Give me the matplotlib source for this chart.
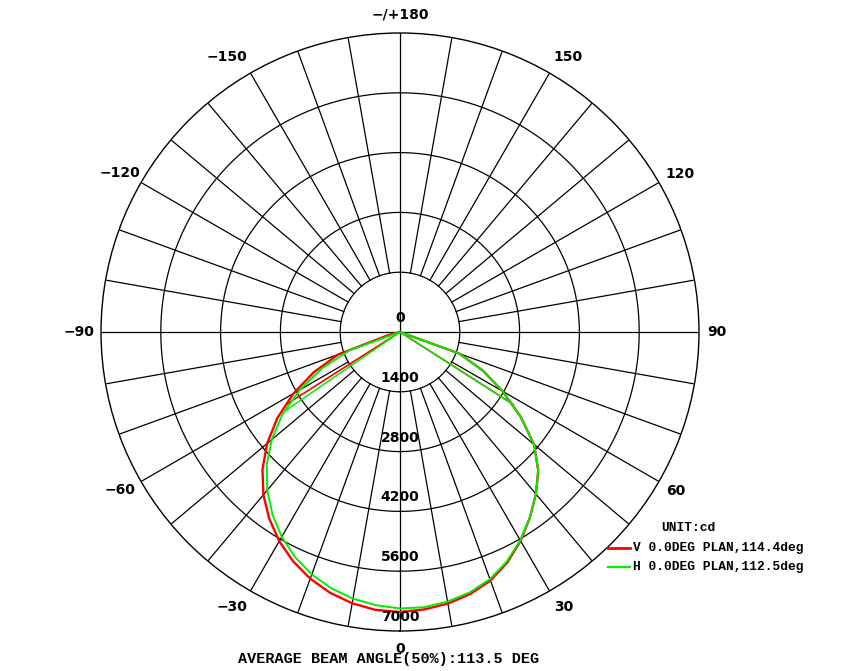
import matplotlib
matplotlib.use('Agg')
import matplotlib.pyplot as plt
import numpy as np

# gamma angles (deg), 0 = straight down
angles = [0, 5, 10, 15, 20, 25, 30, 35, 40, 45, 50, 55, 60, 65, 70, 75, 80, 85, 90]

# intensity (cd)
v_right = [6550, 6520, 6456, 6351, 6192, 5951, 5646, 5302, 4951, 4577, 4097, 3441, 2774, 2142, 1475, 0, 0, 0, 0]
v_left = [6555, 6531, 6450, 6321, 6145, 5923, 5654, 5337, 4975, 4553, 4062, 3500, 2879, 2224, 1545, 281, 0, 0, 0]
h_right = [6496, 6468, 6410, 6309, 6157, 5923, 5630, 5302, 4951, 4577, 4097, 3441, 2774, 2142, 1475, 0, 0, 0, 0]
h_left = [6473, 6421, 6339, 6211, 6040, 5813, 5536, 5209, 4834, 4413, 3921, 3359, 2704, 2013, 1264, 0, 0, 0, 0]

# straight segments from centre
v_inner_deg = [-57.5, 57.4]
v_inner_cd = [3150, 3150]
h_inner_deg = [-55.5, 57.4]
h_inner_cd = [3230, 3150]

ring_values = [1400, 2800, 4200, 5600, 7000]
angle_labels = [0, 30, 60, 90, 120, 150, 180, -150, -120, -90, -60, -30]
v_label = 'V 0.0DEG PLAN,114.4deg'
h_label = 'H 0.0DEG PLAN,112.5deg'
title = 'AVERAGE BEAM ANGLE(50%):113.5 DEG'

RMAX = 7000
mono = ['Liberation Mono', 'DejaVu Sans Mono']


def full_curve(left, right):
    th = [-a for a in angles[::-1]] + angles[1:]
    r = left[::-1] + right[1:]
    return np.deg2rad(th), np.array(r)


fig = plt.figure(figsize=(8.67, 6.71), dpi=100)
ax = fig.add_axes([101 / 867, 40 / 671, 598 / 867, 598 / 671], projection='polar')
ax.set_theta_zero_location('S')
ax.set_ylim(0, RMAX)
ax.grid(False)
ax.set_xticks([])
ax.set_yticks([])
ax.spines['polar'].set_linewidth(1.0)
ax.spines['polar'].set_color('black')

# rings
circ = np.linspace(0, 2 * np.pi, 721)
for rv in ring_values[:-1]:
    ax.plot(circ, np.full_like(circ, rv), color='black', lw=0.9)

# spokes every 10 deg
for a in range(0, 360, 10):
    r0 = 0 if a % 90 == 0 else ring_values[0]
    ax.plot([np.deg2rad(a)] * 2, [r0, RMAX], color='black', lw=0.9)

# curves
th, r = full_curve(v_left, v_right)
ax.plot(th, r, color='#ff0000', lw=1.7, zorder=3)
for d, c in zip(v_inner_deg, v_inner_cd):
    ax.plot([np.deg2rad(d)] * 2, [0, c], color='#ff0000', lw=1.2, zorder=3)

th, r = full_curve(h_left, h_right)
ax.plot(th, r, color='#00ee00', lw=1.4, zorder=4)
for d, c in zip(h_inner_deg, h_inner_cd):
    ax.plot([np.deg2rad(d)] * 2, [0, c], color='#00ee00', lw=1.1, zorder=4)

# radial labels
for rv in [0] + ring_values:
    ax.annotate(str(rv), xy=(0, rv), xytext=(0, 14), textcoords='offset pixels',
                ha='center', va='center', fontsize=10, fontweight='bold',
                family='DejaVu Sans', zorder=5)

# angle labels (small horizontal nudges like the original)
nudge = {150: 10, 120: 5, 60: 1, 30: 5, -150: -15, -120: -6, -90: -4, -60: -6, -30: -10}
for a in angle_labels:
    if a == 180:
        txt = '\u2212/+180'
    elif a < 0:
        txt = '\u2212' + str(-a)
    else:
        txt = str(a)
    ax.annotate(txt, xy=(np.deg2rad(a), RMAX * 317 / 299), xytext=(nudge.get(a, 0), 0),
                textcoords='offset pixels', ha='center', va='center',
                fontsize=10, fontweight='bold', family='DejaVu Sans', annotation_clip=False)

# legend
fig.text(688 / 867, 1 - 528 / 671, 'UNIT:cd', ha='center', va='center',
         family=mono, fontweight='bold', fontsize=9.3)
fig.add_artist(plt.Line2D([608 / 867, 630 / 867], [1 - 548 / 671] * 2, color='#ff0000', lw=2))
fig.add_artist(plt.Line2D([608 / 867, 630 / 867], [1 - 567 / 671] * 2, color='#00ee00', lw=1.6))
fig.text(633 / 867, 1 - 548 / 671, v_label, ha='left', va='center',
         family=mono, fontweight='bold', fontsize=9.3)
fig.text(633 / 867, 1 - 567 / 671, h_label, ha='left', va='center',
         family=mono, fontweight='bold', fontsize=9.3)

fig.text(388.5 / 867, 1 - 659 / 671, title, ha='center', va='center',
         family=mono, fontweight='bold', fontsize=10.9)

fig.savefig('out.png', dpi=100)
